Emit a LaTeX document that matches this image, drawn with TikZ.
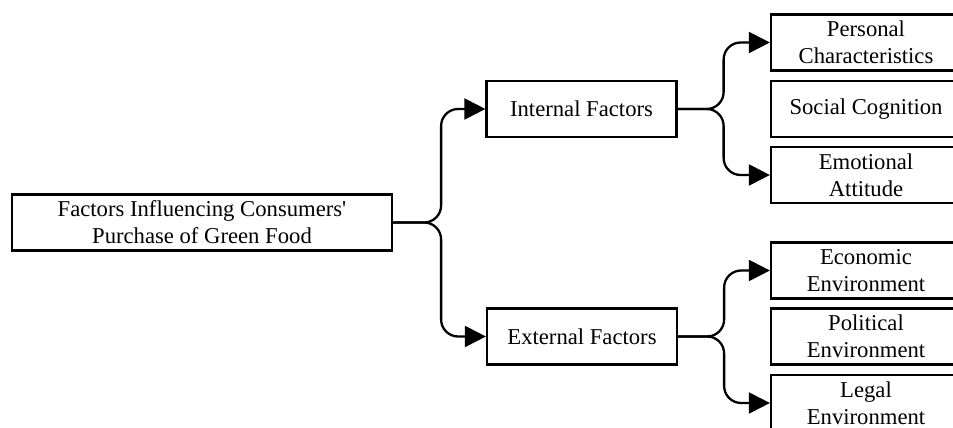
\documentclass[tikz,border=0pt]{standalone}
\usepackage{fontspec}
\newfontfamily\boxfont{Liberation Serif}
\usetikzlibrary{arrows.meta}
\tikzset{%
    box/.style={%
        draw, line width=1.3pt, align=center, inner sep=2pt,
        minimum width=3.8cm, minimum height=1.12cm,
        font=\boxfont\fontsize{12.9}{15.4}\selectfont
    },
    link/.style={%
        line width=1.3pt, rounded corners=0.34cm,
        -{Triangle[length=12pt,width=12pt]}
    }
}

\begin{document}
\begin{tikzpicture}[x=0.02cm, y=-0.02cm]
    \clip (0,0) rectangle (953,428);
    \node[box, minimum width=7.6cm] (root) at (202,222.5)
        {Factors Influencing Consumers'\\Purchase of Green Food};
    \node[box] (int) at (581.5,109) {Internal Factors};
    \node[box] (ext) at (582,336.5) {External Factors};
    \node[box] (pers) at (866,42.5) {Personal\\Characteristics};
    \node[box] (soc) at (866,109) {Social Cognition};
    \node[box] (emo) at (866,175) {Emotional\\Attitude};
    \node[box] (eco) at (866,270.5) {Economic\\Environment};
    \node[box] (pol) at (866,336.5) {Political\\Environment};
    \node[box] (leg) at (866,403) {Legal\\Environment};
    \draw[link] (root.east) -- ++(48,0) |- (int.west);
    \draw[link] (root.east) -- ++(48,0) |- (ext.west);
    \foreach \a/\b in {int/pers, int/emo, ext/eco, ext/leg}
        \draw[link] (\a.east) -- ++(46,0) |- (\b.west);
\end{tikzpicture}
\end{document}
